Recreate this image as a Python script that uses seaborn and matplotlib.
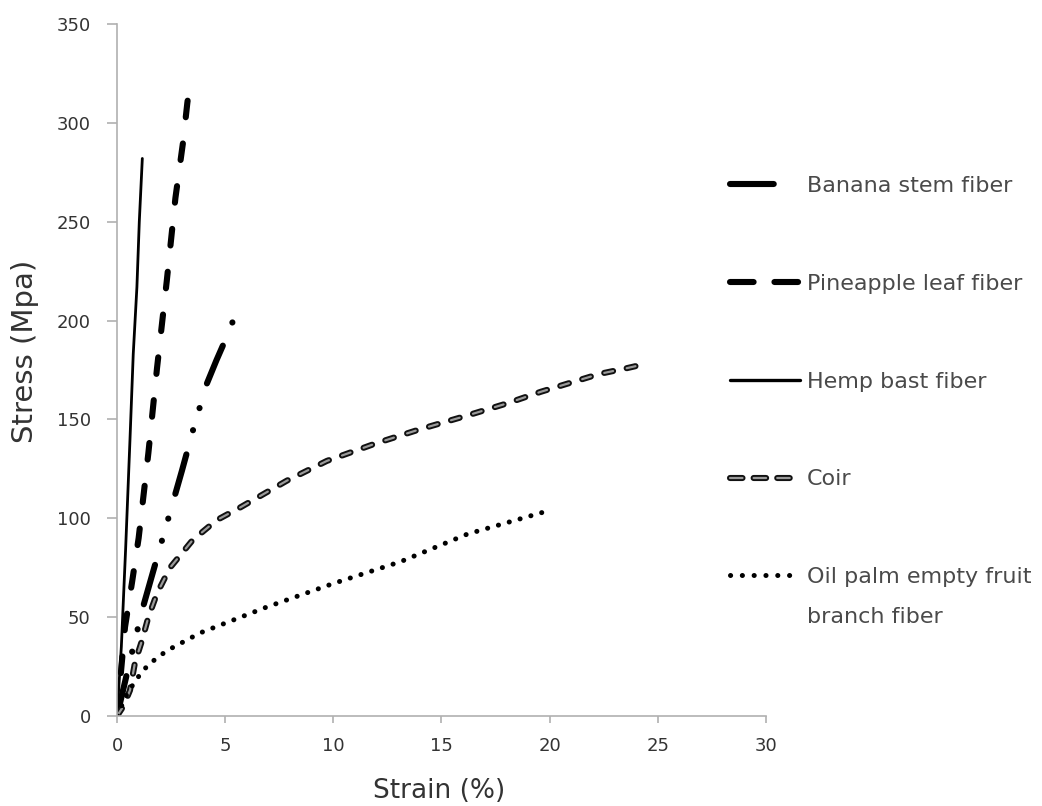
import matplotlib
matplotlib.use("Agg")
import matplotlib.pyplot as plt
import matplotlib.patheffects as pe
from matplotlib.lines import Line2D
import seaborn as sns

# Stress-strain curves of natural fibers
banana_strain = [0, 0.6, 1.2, 1.85, 2.4, 3.0, 3.55, 4.15, 4.6, 5.0, 5.37]
banana_stress = [0, 28, 55, 80, 101, 124, 146, 168, 180, 190, 200]

pineapple_strain = [0, 0.37, 0.7, 1.0, 1.45, 1.85, 2.3, 2.7, 3.05, 3.25, 3.42]
pineapple_stress = [0, 45, 68, 90, 133, 176, 220, 262, 290, 310, 324]

hemp_strain = [0, 0.2, 0.4, 0.6, 0.75, 0.92, 1.03, 1.17]
hemp_stress = [0, 35, 85, 140, 183, 217, 250, 282]

coir_strain = [0, 0.3, 0.6, 0.83, 1.15, 1.45, 1.85, 2.45, 3.5, 4.6, 5.7, 7.85,
               9.7, 12.0, 14.0, 16.2, 18.0, 19.6, 22.3, 23.6, 24.0]
coir_stress = [0, 5, 13, 27, 38, 50, 62, 75, 89, 99, 105.5, 119,
               129, 138, 145, 152, 158, 164, 173, 176, 177]

oilpalm_strain = [0, 0.5, 1.0, 1.45, 2.3, 3.84, 6.9, 10.0, 13.1, 16.2, 20.0]
oilpalm_stress = [0, 12, 20, 26, 33, 42, 55, 67, 78, 92, 104]

labels = ["Banana stem fiber", "Pineapple leaf fiber", "Hemp bast fiber",
          "Coir", "Oil palm empty fruit\nbranch fiber"]

x_ticks = [0, 5, 10, 15, 20, 25, 30]
y_ticks = [0, 50, 100, 150, 200, 250, 300, 350]

sns.set_theme(style="ticks")
plt.rcParams["font.family"] = ["DejaVu Sans"]
plt.rcParams["lines.scale_dashes"] = False

fig = plt.figure(figsize=(10.42, 8.06), dpi=100)
ax = fig.add_axes([0.1123, 0.1117, 0.6227, 0.8585])

common = dict(ax=ax, sort=False, estimator=None, color="black")
coir_effects = [pe.Stroke(linewidth=4.4, foreground="#111111"), pe.Normal()]

sns.lineplot(x=banana_strain, y=banana_stress, label=labels[0], lw=4.4,
             linestyle=(0, (29.5, 18, 0.1, 16.5, 0.1, 18.5)),
             dash_capstyle="round", solid_capstyle="round", **common)
sns.lineplot(x=pineapple_strain, y=pineapple_stress, label=labels[1], lw=4.4,
             linestyle=(0, (12, 19)), dash_capstyle="round", **common)
sns.lineplot(x=hemp_strain, y=hemp_stress, label=labels[2], lw=2.0,
             linestyle="-", **common)
sns.lineplot(x=coir_strain, y=coir_stress, label=labels[3], lw=1.6,
             linestyle=(0, (6.5, 10)), dash_capstyle="round",
             path_effects=coir_effects,
             ax=ax, sort=False, estimator=None, color="#9a9a9a")
sns.lineplot(x=oilpalm_strain, y=oilpalm_stress, label=labels[4], lw=3.6,
             linestyle=(0, (0.1, 8)), dash_capstyle="round", **common)

ax.set_xlim(0, 30)
ax.set_ylim(0, 350)
ax.set_xticks(x_ticks)
ax.set_yticks(y_ticks)
ax.tick_params(axis="both", labelsize=13, labelcolor="#333333",
               color="#b0b0b0", width=1.2)
ax.tick_params(axis="y", length=7, pad=12)
ax.tick_params(axis="x", length=5, pad=10)
sns.despine(ax=ax)
for side in ("left", "bottom"):
    ax.spines[side].set_color("#b0b0b0")
    ax.spines[side].set_linewidth(1.2)

ax.set_xlabel("Strain (%)", fontsize=19, color="#333333")
ax.set_ylabel("Stress (Mpa)", fontsize=21, color="#333333")
ax.xaxis.set_label_coords(0.497, -0.09)
ax.yaxis.set_label_coords(-0.12, 0.527)

# legend keys drawn with the same strokes, patterned for the short key length
legend_handles = [
    Line2D([], [], color="black", lw=4.4, linestyle=(0, (31.5, 100)),
           dash_capstyle="round"),
    Line2D([], [], color="black", lw=4.4, linestyle=(0, (17, 15)),
           dash_capstyle="round"),
    Line2D([], [], color="black", lw=2.4, linestyle="-"),
    Line2D([], [], color="#9a9a9a", lw=1.6, linestyle=(0, (9, 8)),
           dash_capstyle="round", path_effects=coir_effects),
    Line2D([], [], color="black", lw=3.6, linestyle=(0, (0.1, 8.4)),
           dash_capstyle="round"),
]
first_lines = [lab.split("\n")[0] for lab in labels]
leg = ax.legend(legend_handles, first_lines, loc="upper left",
                bbox_to_anchor=(0.7006, 0.7817), bbox_transform=fig.transFigure,
                frameon=False, fontsize=16, labelcolor="#4a4a4a",
                handlelength=3.15, handletextpad=0.32, labelspacing=3.5,
                borderpad=0, borderaxespad=0)

# second line of the wrapped legend label, set under its first line
fig.canvas.draw()
last = leg.get_texts()[-1]
bx, by = last.get_transform().transform(last.get_position())
fx, fy = fig.transFigure.inverted().transform((bx, by - 40))
fig.text(fx, fy, labels[-1].split("\n")[1], fontsize=16, color="#4a4a4a",
         ha="left", va="baseline")

fig.savefig("out.png", dpi=100)
